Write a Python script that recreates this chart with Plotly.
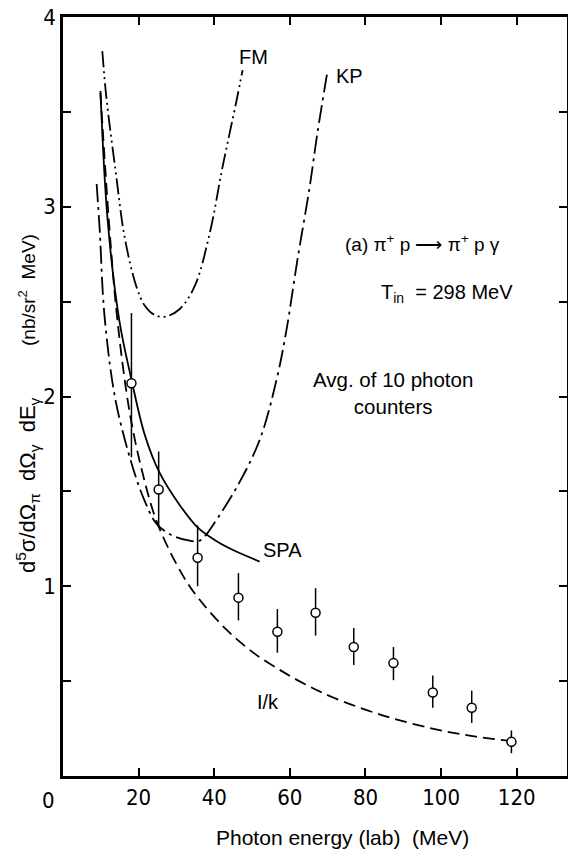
import plotly.graph_objects as go

# ---- data ----
pt_x = [18.1, 25.3, 35.6, 46.4, 56.7, 66.8, 76.9, 87.4, 97.8, 108.1, 118.6]
pt_y = [2.07, 1.51, 1.15, 0.94, 0.76, 0.86, 0.68, 0.595, 0.44, 0.36, 0.18]
pt_err_hi = [0.37, 0.20, 0.17, 0.13, 0.12, 0.13, 0.10, 0.085, 0.09, 0.09, 0.06]
pt_err_lo = [0.39, 0.20, 0.15, 0.12, 0.11, 0.12, 0.095, 0.09, 0.08, 0.08, 0.06]

spa_x = [9.9, 11.8, 14.9, 18.1, 21.6, 25.5, 30.8, 35.6, 40.0, 44.0, 52.0]
spa_y = [3.61, 2.93, 2.40, 2.09, 1.80, 1.60, 1.43, 1.31, 1.245, 1.20, 1.13]

invk_x = [9.9, 12.3, 14.4, 17.6, 21.0, 25.0, 31.6, 36.1, 43.3, 50.7, 58.1, 63.9, 71.3, 84.5, 97.7, 108.3, 118.6]
invk_y = [3.60, 2.88, 2.40, 1.92, 1.60, 1.33, 1.06, 0.93, 0.77, 0.645, 0.55, 0.485, 0.415, 0.32, 0.25, 0.21, 0.184]

fm_x = [10.4, 11.5, 13.9, 16.3, 19.4, 21.6, 24.2, 26.9, 30.8, 34.8, 38.8, 42.2, 45.9, 47.5]
fm_y = [3.82, 3.57, 3.19, 2.84, 2.58, 2.48, 2.43, 2.42, 2.46, 2.58, 2.86, 3.21, 3.56, 3.72]

kp_x = [8.9, 9.7, 11.0, 13.9, 18.4, 21.6, 24.7, 28.7, 33.5, 36.1, 38.2, 39.6, 45.9, 52.0, 56.5, 59.1, 62.0, 65.2, 67.3, 70.0]
kp_y = [3.12, 2.88, 2.42, 1.98, 1.63, 1.45, 1.33, 1.27, 1.24, 1.24, 1.28, 1.32, 1.52, 1.77, 2.09, 2.35, 2.72, 3.10, 3.39, 3.72]

x_ticks = [0, 20, 40, 60, 80, 100, 120]
x_tick_labels = ["", "20", "40", "60", "80", "100", "120"]
y_ticks = [0, 0.5, 1, 1.5, 2, 2.5, 3, 3.5, 4]
y_tick_labels = ["", "", "1", "", "2", "", "3", "", "4"]

TXT = "Liberation Sans, Arial, sans-serif"
NUM = "Liberation Sans Narrow, DejaVu Sans Condensed, Arial Narrow, sans-serif"

fig = go.Figure()
line_w = 1.8
fig.add_trace(go.Scatter(x=kp_x, y=kp_y, mode="lines",
                         line=dict(color="black", width=line_w, shape="spline", dash="18px,5px,3px,5px")))
fig.add_trace(go.Scatter(x=fm_x, y=fm_y, mode="lines",
                         line=dict(color="black", width=line_w, shape="spline", dash="16px,4px,2px,4px,2px,4px")))
fig.add_trace(go.Scatter(x=invk_x, y=invk_y, mode="lines",
                         line=dict(color="black", width=line_w, shape="spline", dash="12px,6px")))
fig.add_trace(go.Scatter(x=spa_x, y=spa_y, mode="lines",
                         line=dict(color="black", width=line_w, shape="spline")))
fig.add_trace(go.Scatter(x=pt_x, y=pt_y, mode="markers",
                         marker=dict(symbol="circle", size=9, color="white",
                                     line=dict(color="black", width=1.5)),
                         error_y=dict(type="data", symmetric=False, array=pt_err_hi,
                                      arrayminus=pt_err_lo, color="black", thickness=1.5, width=0)))

ann = []
def add(text, x, y, size=20, family=TXT, **kw):
    ann.append(dict(text=text, x=(x - 63) / 504, y=(776 - y) / 759, xref="paper", yref="paper",
                    showarrow=False, font=dict(family=family, size=size, color="black"),
                    xanchor=kw.pop("xanchor", "center"), yanchor="middle", **kw))

add("FM", 253, 57)
add("KP", 349, 76)
add("(a) π<sup>+</sup> p ⟶ π<sup>+</sup> p γ", 422, 243, size=19)
add("T<sub>in</sub>  = 298 MeV", 447, 293, size=20)
add("Avg. of 10 photon<br>counters", 393, 393, size=20.5)
add("SPA", 282, 550)
add("I/k", 268, 702)
add("0", 48, 800, size=22, family=NUM)
add("Photon energy (lab)  (MeV)", 342, 838, size=21)
add("d<sup>5</sup>σ/dΩ<sub>π</sub>&nbsp; dΩ<sub>γ</sub>&nbsp; dE<sub>γ</sub>", 27, 485,
    size=22, textangle=-90)
add("(nb/sr<sup>2</sup>&nbsp; MeV)", 27, 290, size=19, textangle=-90)

fig.update_layout(
    width=568, height=857,
    margin=dict(l=63, r=1, t=17, b=81, autoexpand=False),
    paper_bgcolor="white", plot_bgcolor="white",
    showlegend=False,
    annotations=ann,
    xaxis=dict(range=[0, 133.3], tickvals=x_ticks, ticktext=x_tick_labels, automargin=False,
               ticks="inside", ticklen=8, tickwidth=1.5, tickcolor="black",
               showline=True, linecolor="black", linewidth=2.5, mirror="allticks",
               showgrid=False, zeroline=False,
               tickfont=dict(family=NUM, size=22, color="black")),
    yaxis=dict(range=[0, 4], tickvals=y_ticks, ticktext=y_tick_labels, automargin=False,
               ticks="inside", ticklen=8, tickwidth=1.5, tickcolor="black",
               showline=True, linecolor="black", linewidth=2.5, mirror="allticks",
               showgrid=False, zeroline=False,
               tickfont=dict(family=NUM, size=22, color="black")),
)

fig.write_html("out.html", config={"displayModeBar": False},
               post_script="document.body.style.margin='0';document.body.style.overflow='hidden';")
